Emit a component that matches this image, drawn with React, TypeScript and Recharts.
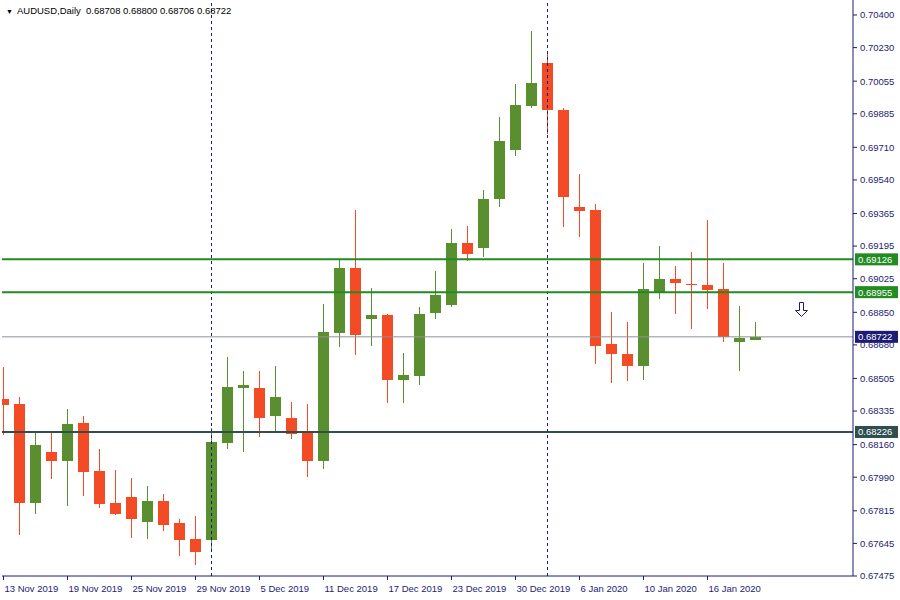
import { Bar, ComposedChart, ReferenceDot, ReferenceLine, XAxis, YAxis } from "recharts";

// AUDUSD daily candles, 13 Nov 2019 .. 21 Jan 2020
const days = [
  "13 Nov 2019", "14 Nov 2019", "15 Nov 2019", "18 Nov 2019", "19 Nov 2019", "20 Nov 2019",
  "21 Nov 2019", "22 Nov 2019", "25 Nov 2019", "26 Nov 2019", "27 Nov 2019", "28 Nov 2019",
  "29 Nov 2019", "2 Dec 2019", "3 Dec 2019", "4 Dec 2019", "5 Dec 2019", "6 Dec 2019",
  "9 Dec 2019", "10 Dec 2019", "11 Dec 2019", "12 Dec 2019", "13 Dec 2019", "16 Dec 2019",
  "17 Dec 2019", "18 Dec 2019", "19 Dec 2019", "20 Dec 2019", "23 Dec 2019", "24 Dec 2019",
  "26 Dec 2019", "27 Dec 2019", "30 Dec 2019", "31 Dec 2019", "2 Jan 2020", "3 Jan 2020",
  "6 Jan 2020", "7 Jan 2020", "8 Jan 2020", "9 Jan 2020", "10 Jan 2020", "13 Jan 2020",
  "14 Jan 2020", "15 Jan 2020", "16 Jan 2020", "17 Jan 2020", "20 Jan 2020", "21 Jan 2020",
];

const opens = [
  0.68398, 0.68372, 0.67856, 0.68122, 0.68075, 0.68273, 0.68022, 0.67856, 0.67887, 0.67756,
  0.67866, 0.67751, 0.67668, 0.67663, 0.68168, 0.68455, 0.68455, 0.68309, 0.68299, 0.68221,
  0.68075, 0.68742, 0.69081, 0.68815, 0.68836, 0.68497, 0.68518, 0.68846, 0.68888, 0.69211,
  0.69185, 0.69441, 0.69696, 0.69926, 0.7015, 0.69905, 0.69399, 0.69383, 0.68685, 0.68632,
  0.6857, 0.68956, 0.69023, 0.68997, 0.68992, 0.68971, 0.68695, 0.68708,
];
const highs = [
  0.68565, 0.68408, 0.68221, 0.68221, 0.68346, 0.68309, 0.68137, 0.68028, 0.67986, 0.67944,
  0.67903, 0.67772, 0.67788, 0.68247, 0.68617, 0.68544, 0.68544, 0.6857, 0.68382, 0.68372,
  0.68893, 0.69128, 0.69383, 0.68977, 0.68841, 0.68638, 0.68878, 0.69065, 0.69284, 0.693,
  0.69488, 0.69868, 0.7004, 0.70317, 0.70197, 0.69915, 0.69571, 0.69415, 0.68851, 0.68799,
  0.69107, 0.69196, 0.69091, 0.69164, 0.69331, 0.69107, 0.68883, 0.688,
];
const lows = [
  0.6821, 0.67689, 0.67798, 0.67981, 0.6784, 0.67892, 0.6783, 0.67793, 0.67673, 0.67668,
  0.6771, 0.67579, 0.67532, 0.67605, 0.68137, 0.68122, 0.682, 0.68226, 0.68189, 0.67991,
  0.68033, 0.68669, 0.68627, 0.68674, 0.68377, 0.68377, 0.68471, 0.68815, 0.68878, 0.69117,
  0.69138, 0.69399, 0.69665, 0.69915, 0.6978, 0.69295, 0.69242, 0.6858, 0.68481, 0.68492,
  0.68497, 0.68919, 0.68841, 0.68763, 0.68867, 0.68695, 0.68544, 0.68706,
];
const closes = [
  0.68367, 0.67856, 0.68158, 0.68075, 0.68267, 0.68017, 0.6785, 0.67798, 0.67772, 0.67866,
  0.67741, 0.67663, 0.676, 0.68174, 0.6846, 0.68471, 0.68299, 0.68408, 0.68215, 0.68075,
  0.68747, 0.69081, 0.68732, 0.68836, 0.68497, 0.68523, 0.68841, 0.6894, 0.69211, 0.69154,
  0.69441, 0.69743, 0.69931, 0.70045, 0.69905, 0.69451, 0.69378, 0.68674, 0.68632, 0.6857,
  0.68971, 0.69023, 0.69003, 0.68995, 0.68966, 0.68721, 0.68716, 0.68722,
];

const dateTicks = [0, 4, 8, 12, 16, 20, 24, 28, 32, 36, 40, 44];
const priceTicks = [
  "0.70400", "0.70230", "0.70055", "0.69885", "0.69710", "0.69540", "0.69365", "0.69195",
  "0.69025", "0.68850", "0.68680", "0.68505", "0.68335", "0.68160", "0.67990", "0.67815",
  "0.67645", "0.67475",
];
const resistanceLevels = [0.69126, 0.68955];
const supportLevel = 0.68226;
const lastPrice = 0.68722;
const monthStarts = ["2 Dec 2019", "2 Jan 2020"];
const arrowMark = { day: 49.84, price: 0.68867 };

const BULL = "#5a8f2f";
const BEAR = "#f24b25";
const NAVY = "#1c1c74";
const LEVEL_GREEN = "#228b22";
const SUPPORT = "#2f4f4f";
const FONT = '"Liberation Sans", Arial, sans-serif';

const candles = days.map((day, i) => ({
  i,
  day,
  open: opens[i],
  high: highs[i],
  low: lows[i],
  close: closes[i],
  range: [lows[i], highs[i]],
}));

function Candle(props: any) {
  const { x, y, width, height, payload } = props;
  if (x == null || payload == null) return null;
  const { open, close, high, low } = payload;
  const perUnit = high === low ? 0 : height / (high - low);
  const toY = (v: number) => y + (high - v) * perUnit;
  const color = close >= open ? BULL : BEAR;
  const top = Math.round(toY(Math.max(open, close)));
  const bottom = Math.round(toY(Math.min(open, close)));
  const left = Math.round(x);
  const cx = left + Math.floor(width / 2) + 0.5;
  return (
    <g>
      <line x1={cx} x2={cx} y1={Math.round(y)} y2={Math.round(y + height)} stroke={color} strokeWidth={1} />
      <rect x={left} y={top} width={Math.round(width)} height={Math.max(1, bottom - top)} fill={color} />
    </g>
  );
}

function PriceTag({ viewBox, text, bg }: any) {
  if (!viewBox) return null;
  const x = viewBox.x + viewBox.width + 2;
  const y = viewBox.y;
  return (
    <g>
      <rect x={x} y={y - 6} width={43} height={12} fill={bg} />
      <text x={x + 3} y={y + 3.5} fill="#ffffff" fontSize={9.5} fontFamily={FONT}>
        {text}
      </text>
    </g>
  );
}

function DateTick({ x, payload }: any) {
  return (
    <text x={x + 1} y={592} textAnchor="start" fill={NAVY} fontSize={9.5} fontFamily={FONT}>
      {days[payload.value]}
    </text>
  );
}

function DownArrow({ cx, cy }: any) {
  if (cx == null) return null;
  const l = Math.round(cx) + 0.5;
  const t = Math.round(cy) - 7 + 0.5;
  return (
    <path
      d={`M${l - 2} ${t} H${l + 2} V${t + 8} H${l + 6} L${l} ${t + 14} L${l - 6} ${t + 8} H${l - 2} Z`}
      fill="#ffffff"
      stroke={NAVY}
      strokeWidth={1}
    />
  );
}

export default function App() {
  return (
    <div style={{ position: "absolute", left: 0, top: 0, width: 900, height: 600, background: "#ffffff" }}>
      <ComposedChart
        width={900}
        height={600}
        data={candles}
        margin={{ top: 0, right: 0, bottom: 0, left: 2 }}
      >
        <XAxis
          dataKey="i"
          type="number"
          domain={[-0.09375, 53.09375]}
          allowDataOverflow
          ticks={dateTicks}
          tick={<DateTick />}
          tickSize={4}
          tickLine={{ stroke: NAVY }}
          axisLine={{ stroke: NAVY }}
          height={24}
          interval={0}
        />
        <YAxis
          orientation="right"
          type="number"
          domain={[0.67475, 0.704782]}
          allowDataOverflow
          ticks={priceTicks.map(Number)}
          tickFormatter={(v: number) => v.toFixed(5)}
          tick={{ fill: NAVY, fontSize: 9.5, fontFamily: FONT }}
          tickSize={4}
          tickMargin={3}
          tickLine={{ stroke: NAVY }}
          axisLine={{ stroke: NAVY }}
          width={47}
          interval={0}
        />
        <YAxis yAxisId="frame" orientation="left" width={0} domain={[0, 1]} tick={false} tickLine={false} axisLine={{ stroke: NAVY }} />
        {monthStarts.map((d) => (
          <ReferenceLine key={d} x={days.indexOf(d)} stroke={NAVY} strokeDasharray="3 3" />
        ))}
        <Bar dataKey="range" barSize={11} shape={<Candle />} isAnimationActive={false} />
        {resistanceLevels.map((v) => (
          <ReferenceLine
            key={v}
            y={v}
            stroke={LEVEL_GREEN}
            strokeWidth={2}
            label={(p: any) => <PriceTag {...p} text={v.toFixed(5)} bg={LEVEL_GREEN} />}
          />
        ))}
        <ReferenceLine
          y={lastPrice}
          stroke="#8c929a"
          strokeWidth={1}
          label={(p: any) => <PriceTag {...p} text={lastPrice.toFixed(5)} bg={NAVY} />}
        />
        <ReferenceLine
          y={supportLevel}
          stroke={SUPPORT}
          strokeWidth={2}
          label={(p: any) => <PriceTag {...p} text={supportLevel.toFixed(5)} bg={SUPPORT} />}
        />
        <ReferenceDot x={arrowMark.day} y={arrowMark.price} shape={<DownArrow />} ifOverflow="visible" />
      </ComposedChart>
      <div
        style={{
          position: "absolute",
          left: 6,
          top: 5,
          fontFamily: FONT,
          fontSize: 9.5,
          lineHeight: "12px",
          color: "#000000",
          whiteSpace: "pre",
        }}
      >
        <span style={{ fontSize: 7, marginRight: 4 }}>▼</span>
        AUDUSD,Daily  0.68708 0.68800 0.68706 0.68722
      </div>
    </div>
  );
}
